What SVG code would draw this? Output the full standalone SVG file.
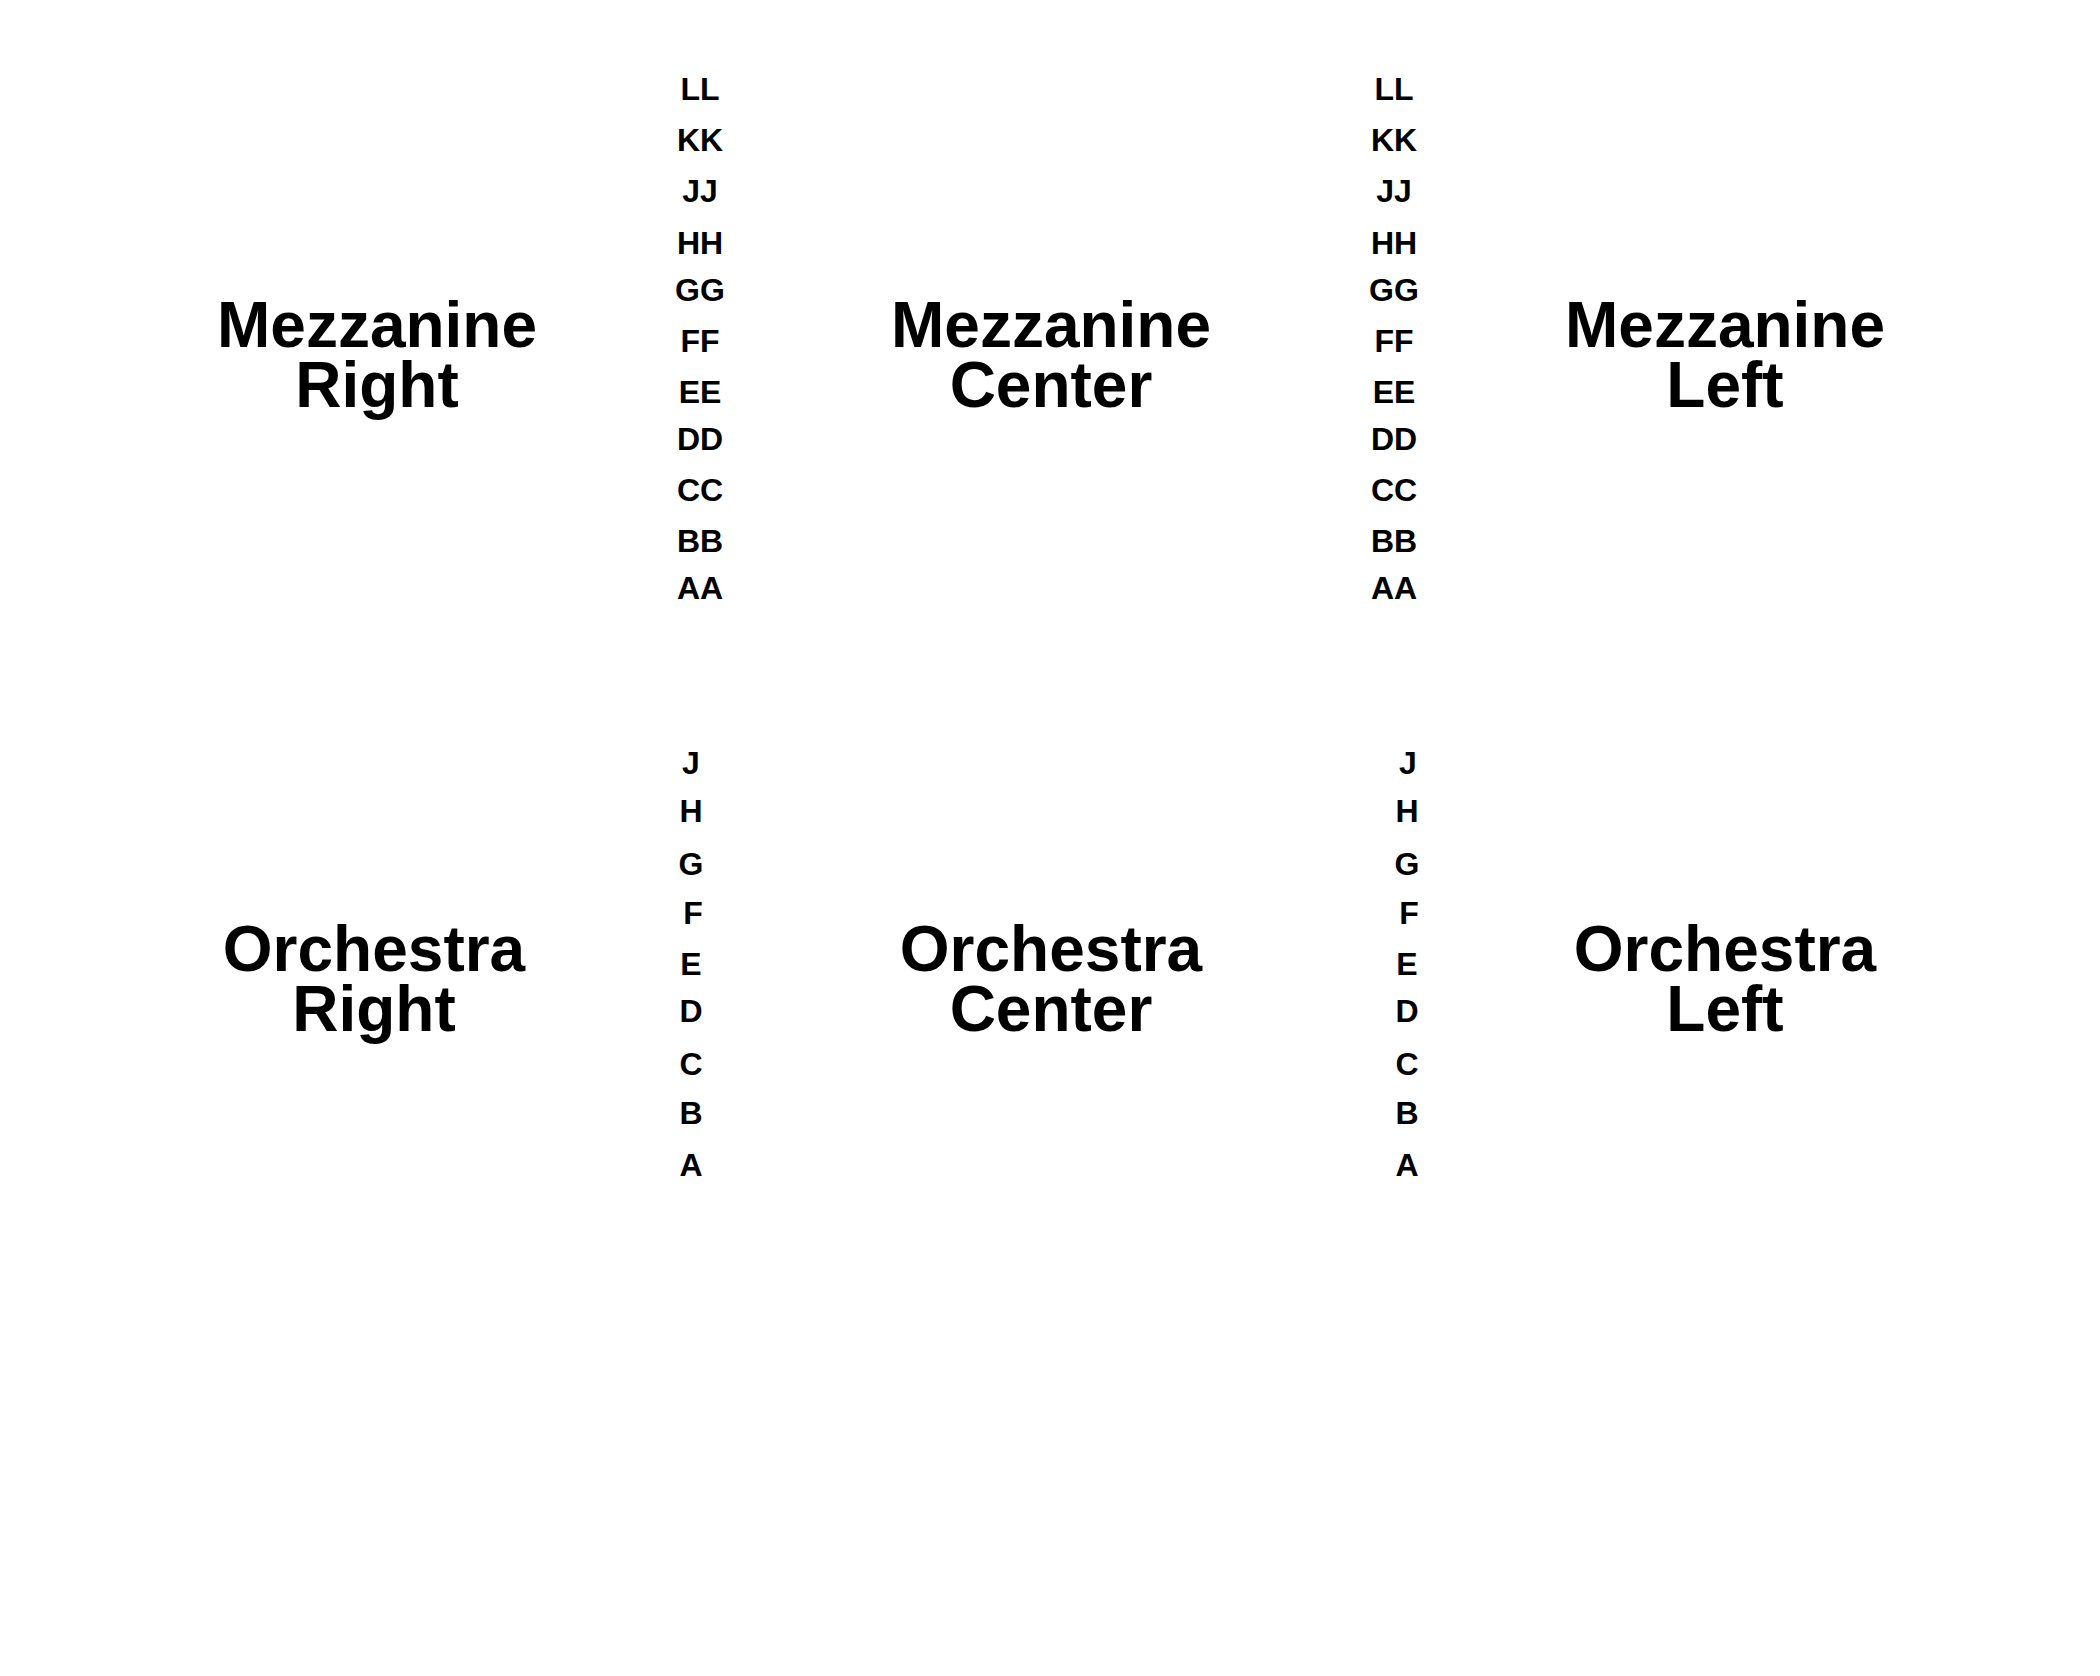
<svg xmlns="http://www.w3.org/2000/svg" width="2100" height="1676" viewBox="0 0 2100 1676">
<style>
text{font-family:"Liberation Sans",Arial,Helvetica,sans-serif;font-weight:bold;fill:#000;text-anchor:middle}
.big{font-size:64px}
.row{font-size:32px}
</style>
<rect x="0" y="0" width="2100" height="1676" fill="#fff"/>
<g id="mezzanine-right"><text class="big" x="377" y="347">Mezzanine</text><text class="big" x="377" y="407">Right</text></g>
<g id="mezzanine-center"><text class="big" x="1051" y="347">Mezzanine</text><text class="big" x="1051" y="407">Center</text></g>
<g id="mezzanine-left"><text class="big" x="1725" y="347">Mezzanine</text><text class="big" x="1725" y="407">Left</text></g>
<g id="orchestra-right"><text class="big" x="374" y="971">Orchestra</text><text class="big" x="374" y="1031">Right</text></g>
<g id="orchestra-center"><text class="big" x="1051" y="971">Orchestra</text><text class="big" x="1051" y="1031">Center</text></g>
<g id="orchestra-left"><text class="big" x="1725" y="971">Orchestra</text><text class="big" x="1725" y="1031">Left</text></g>
<g id="mezz-rows-1">
<text class="row" x="700" y="100">LL</text>
<text class="row" x="700" y="151">KK</text>
<text class="row" x="700" y="202">JJ</text>
<text class="row" x="700" y="254">HH</text>
<text class="row" x="700" y="301">GG</text>
<text class="row" x="700" y="352">FF</text>
<text class="row" x="700" y="403">EE</text>
<text class="row" x="700" y="450">DD</text>
<text class="row" x="700" y="501">CC</text>
<text class="row" x="700" y="552">BB</text>
<text class="row" x="700" y="599">AA</text>
</g>
<g id="mezz-rows-2">
<text class="row" x="1394" y="100">LL</text>
<text class="row" x="1394" y="151">KK</text>
<text class="row" x="1394" y="202">JJ</text>
<text class="row" x="1394" y="254">HH</text>
<text class="row" x="1394" y="301">GG</text>
<text class="row" x="1394" y="352">FF</text>
<text class="row" x="1394" y="403">EE</text>
<text class="row" x="1394" y="450">DD</text>
<text class="row" x="1394" y="501">CC</text>
<text class="row" x="1394" y="552">BB</text>
<text class="row" x="1394" y="599">AA</text>
</g>
<g id="orch-rows-1">
<text class="row" x="691" y="774">J</text>
<text class="row" x="691" y="822">H</text>
<text class="row" x="691" y="875">G</text>
<text class="row" x="693" y="924">F</text>
<text class="row" x="691" y="975">E</text>
<text class="row" x="691" y="1022">D</text>
<text class="row" x="691" y="1075">C</text>
<text class="row" x="691" y="1124">B</text>
<text class="row" x="691" y="1176">A</text>
</g>
<g id="orch-rows-2">
<text class="row" x="1408" y="774">J</text>
<text class="row" x="1407" y="822">H</text>
<text class="row" x="1407" y="875">G</text>
<text class="row" x="1409" y="924">F</text>
<text class="row" x="1407" y="975">E</text>
<text class="row" x="1407" y="1022">D</text>
<text class="row" x="1407" y="1075">C</text>
<text class="row" x="1407" y="1124">B</text>
<text class="row" x="1407" y="1176">A</text>
</g>
</svg>
